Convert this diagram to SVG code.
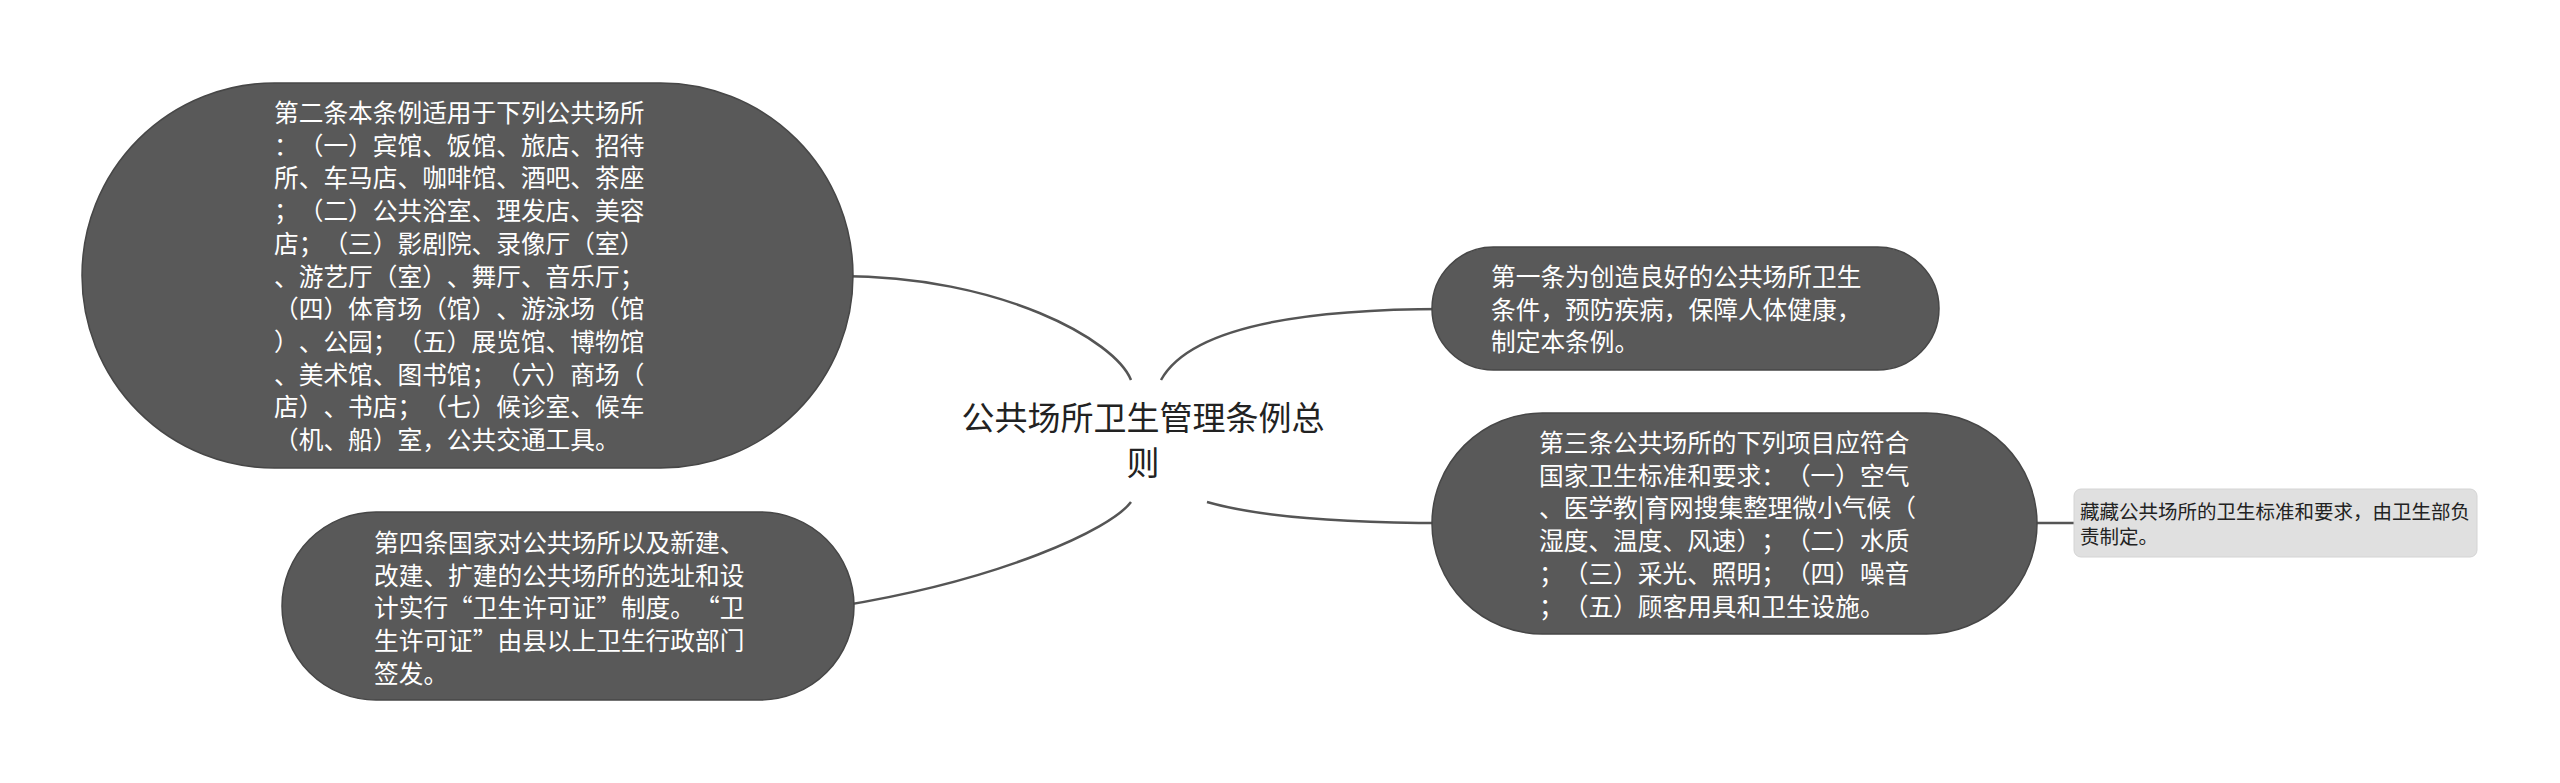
<svg xmlns="http://www.w3.org/2000/svg" width="2560" height="783" viewBox="0 0 2560 783">
<style>
text{text-spacing-trim:space-all}
.node{fill:#595959;stroke:#474747;stroke-width:1.5}
.note{fill:#e0e0e0;stroke:#d4d4d4;stroke-width:1}
.t{font-family:"Noto Sans CJK SC","Noto Sans",sans-serif;fill:#ffffff;font-size:24.7px}
.nt{font-family:"Noto Sans CJK SC","Noto Sans",sans-serif;fill:#222222;font-size:19.5px}
.ct{font-family:"Noto Sans CJK SC","Noto Sans",sans-serif;fill:#222222;font-size:33px}
.c{fill:none;stroke:#555555;stroke-width:2.5}
</style>
<rect width="2560" height="783" fill="#ffffff"/>
<g id="connectors">
<path class="c" d="M1131,380 C1115,340 1000,276 840,276"/>
<path class="c" d="M1161,380 Q1200,309 1445,309"/>
<path class="c" d="M1207,502 Q1280,523 1445,523"/>
<path class="c" d="M1131,502 C1110,530 1000,580 840,606"/>
<path class="c" d="M2030,523 L2076,523"/>
</g>
<g id="root">
<text class="ct" text-anchor="middle"><tspan x="1143" y="430">公共场所卫生管理条例总</tspan><tspan x="1143" y="475">则</tspan></text>
</g>
<g id="node2">
<rect class="node" x="82" y="83" width="771" height="385" rx="192.5" ry="192.5"/>
<text class="t">
<tspan x="274" y="122">第二条本条例适用于下列公共场所</tspan>
<tspan x="274" y="154.7">：（一）宾馆、饭馆、旅店、招待</tspan>
<tspan x="274" y="187.4">所、车马店、咖啡馆、酒吧、茶座</tspan>
<tspan x="274" y="220.1">；（二）公共浴室、理发店、美容</tspan>
<tspan x="274" y="252.8">店；（三）影剧院、录像厅（室）</tspan>
<tspan x="274" y="285.5">、游艺厅（室）、舞厅、音乐厅；</tspan>
<tspan x="274" y="318.2">（四）体育场（馆）、游泳场（馆</tspan>
<tspan x="274" y="350.9">）、公园；（五）展览馆、博物馆</tspan>
<tspan x="274" y="383.6">、美术馆、图书馆；（六）商场（</tspan>
<tspan x="274" y="416.3">店）、书店；（七）候诊室、候车</tspan>
<tspan x="274" y="449">（机、船）室，公共交通工具。</tspan>
</text>
</g>
<g id="node4">
<rect class="node" x="282" y="512" width="572" height="188" rx="94" ry="94"/>
<text class="t">
<tspan x="374" y="552">第四条国家对公共场所以及新建、</tspan>
<tspan x="374" y="584.7">改建、扩建的公共场所的选址和设</tspan>
<tspan x="374" y="617.4">计实行“卫生许可证”制度。“卫</tspan>
<tspan x="374" y="650.1">生许可证”由县以上卫生行政部门</tspan>
<tspan x="374" y="682.8">签发。</tspan>
</text>
</g>
<g id="node1">
<rect class="node" x="1432" y="247" width="507" height="123" rx="61.5" ry="61.5"/>
<text class="t">
<tspan x="1491" y="286">第一条为创造良好的公共场所卫生</tspan>
<tspan x="1491" y="318.7">条件，预防疾病，保障人体健康，</tspan>
<tspan x="1491" y="351.4">制定本条例。</tspan>
</text>
</g>
<g id="node3">
<rect class="node" x="1432" y="413" width="605" height="221" rx="110.5" ry="110.5"/>
<text class="t">
<tspan x="1539" y="452">第三条公共场所的下列项目应符合</tspan>
<tspan x="1539" y="484.7">国家卫生标准和要求：（一）空气</tspan>
<tspan x="1539" y="517.4">、医学教|育网搜集整理微小气候（</tspan>
<tspan x="1539" y="550.1">湿度、温度、风速）；（二）水质</tspan>
<tspan x="1539" y="582.8">；（三）采光、照明；（四）噪音</tspan>
<tspan x="1539" y="615.5">；（五）顾客用具和卫生设施。</tspan>
</text>
</g>
<g id="note">
<rect class="note" x="2074" y="489" width="403" height="68" rx="7" ry="7"/>
<text class="nt">
<tspan x="2080" y="519">藏藏公共场所的卫生标准和要求，由卫生部负</tspan>
<tspan x="2080" y="544">责制定。</tspan>
</text>
</g>
</svg>
